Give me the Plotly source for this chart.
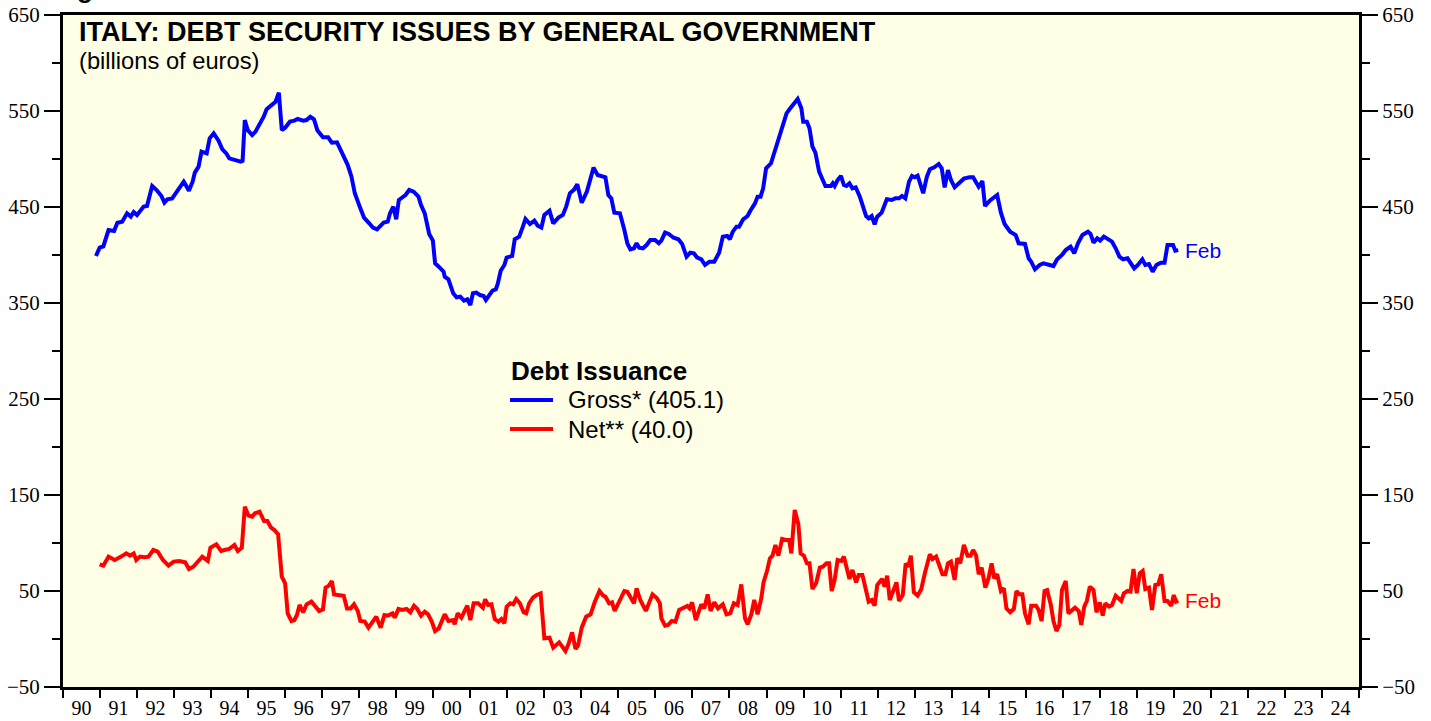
import pandas as pd
import plotly.graph_objects as go

# values; x is decimal year
gross_t = [1990.89, 1990.99, 1991.09, 1991.23, 1991.38, 1991.47, 1991.60, 1991.73, 1991.83, 1991.91,
           1992.00, 1992.18, 1992.27, 1992.41, 1992.53, 1992.66, 1992.74, 1992.82, 1992.95, 1993.06,
           1993.16, 1993.26, 1993.33, 1993.40, 1993.50, 1993.56, 1993.66, 1993.74, 1993.88, 1993.96,
           1994.07, 1994.20, 1994.30, 1994.41, 1994.49, 1994.65, 1994.80, 1994.85, 1994.91, 1994.99,
           1995.11, 1995.20, 1995.33, 1995.42, 1995.50, 1995.62, 1995.74, 1995.83, 1995.91, 1996.00,
           1996.13, 1996.25, 1996.34, 1996.49, 1996.58, 1996.68, 1996.78, 1996.87, 1997.02, 1997.16,
           1997.26, 1997.40, 1997.55, 1997.69, 1997.79, 1997.88, 1998.03, 1998.13, 1998.27, 1998.37,
           1998.48, 1998.66, 1998.77, 1998.83, 1998.92, 1999.00, 1999.07, 1999.19, 1999.25, 1999.35,
           1999.47, 1999.60, 1999.67, 1999.77, 1999.89, 1999.99, 2000.05, 2000.15, 2000.28, 2000.31,
           2000.41, 2000.54, 2000.63, 2000.73, 2000.83, 2000.92, 2001.00, 2001.07, 2001.16, 2001.26,
           2001.36, 2001.42, 2001.50, 2001.60, 2001.69, 2001.74, 2001.82, 2001.92, 2001.98, 2002.13,
           2002.20, 2002.32, 2002.42, 2002.49, 2002.61, 2002.73, 2002.82, 2002.92, 2003.00, 2003.14,
           2003.24, 2003.38, 2003.50, 2003.59, 2003.69, 2003.81, 2003.89, 2004.01, 2004.15, 2004.25,
           2004.33, 2004.44, 2004.59, 2004.65, 2004.73, 2004.81, 2004.89, 2005.04, 2005.16, 2005.24,
           2005.32, 2005.42, 2005.49, 2005.56, 2005.66, 2005.76, 2005.86, 2005.99, 2006.09, 2006.16,
           2006.26, 2006.36, 2006.49, 2006.62, 2006.72, 2006.84, 2006.94, 2007.04, 2007.12, 2007.24,
           2007.34, 2007.46, 2007.59, 2007.72, 2007.82, 2007.94, 2008.01, 2008.09, 2008.19, 2008.26,
           2008.37, 2008.49, 2008.56, 2008.69, 2008.76, 2008.84, 2008.91, 2008.99, 2009.12, 2009.24,
           2009.34, 2009.44, 2009.54, 2009.62, 2009.74, 2009.84, 2009.94, 2009.99, 2010.09, 2010.16,
           2010.24, 2010.32, 2010.42, 2010.52, 2010.59, 2010.74, 2010.79, 2010.84, 2010.92, 2011.01,
           2011.09, 2011.16, 2011.24, 2011.32, 2011.41, 2011.52, 2011.60, 2011.69, 2011.76, 2011.84,
           2011.92, 2011.99, 2012.11, 2012.25, 2012.38, 2012.48, 2012.58, 2012.66, 2012.75, 2012.85,
           2012.93, 2013.00, 2013.08, 2013.15, 2013.23, 2013.33, 2013.41, 2013.53, 2013.65, 2013.73,
           2013.81, 2013.90, 2013.98, 2014.08, 2014.21, 2014.33, 2014.48, 2014.58, 2014.65, 2014.73,
           2014.83, 2014.90, 2015.03, 2015.13, 2015.23, 2015.33, 2015.43, 2015.58, 2015.73, 2015.81,
           2015.98, 2016.08, 2016.15, 2016.25, 2016.38, 2016.48, 2016.61, 2016.75, 2016.85, 2016.98,
           2017.08, 2017.21, 2017.31, 2017.41, 2017.53, 2017.68, 2017.75, 2017.83, 2017.93, 2018.01,
           2018.11, 2018.21, 2018.33, 2018.43, 2018.53, 2018.63, 2018.75, 2018.83, 2018.93, 2019.03,
           2019.15, 2019.23, 2019.33, 2019.43, 2019.53, 2019.65, 2019.75, 2019.83, 2019.98, 2020.04,
           2020.12]
gross_v = [399, 407.6, 409, 426, 425, 433.6, 434.7, 443.4, 440, 444.8,
           441.7, 450.4, 451, 471.9, 467.7, 461.5, 454.5, 458, 459, 465.3,
           471.9, 476.4, 471.9, 467, 476.4, 485.8, 492, 507.6, 505.9, 521.5,
           526.7, 519, 510.4, 505.9, 500.7, 499, 497.2, 498, 540.6, 530,
           525, 528.5, 537.3, 544, 551.8, 555.2, 559.7, 569, 530, 532.6,
           538.9, 540, 541.7, 540, 540.6, 544, 541.3, 530, 522.6, 522.6,
           517, 517.4, 505.2, 493.7, 481.6, 464.3, 448.6, 439, 433, 428.5,
           426.7, 433.7, 434.7, 443.4, 450.4, 437.2, 457.3, 461.5, 462.5, 467.7,
           466, 460.8, 452, 443.4, 421.9, 415, 391.4, 387.8, 382.6, 377.4,
           374.7, 360.1, 356, 356.6, 352.4, 353.8, 347.9, 360.1, 360.8, 358.3,
           357.3, 353.1, 358.3, 362.8, 364.3, 369.8, 383.6, 389.6, 397.2, 399,
           416.4, 419.1, 429.5, 437.5, 432.3, 435.8, 430.5, 428.5, 441.7, 446.2,
           433, 438.9, 441.7, 450.4, 464.3, 468.4, 473.6, 454.5, 466, 481.6,
           491, 483.3, 481, 481, 462.5, 459, 444.1, 443.4, 426, 412.2,
           405.9, 407, 412.2, 407.6, 407, 410.4, 415.6, 415.6, 412.2, 415,
           423.3, 421.9, 418, 416.4, 411.5, 398.3, 402.4, 401.8, 397.6, 395.5,
           389.6, 393, 393, 402.4, 419.1, 419.8, 416.4, 424.3, 429.5, 429.5,
           437.2, 440.6, 445.8, 453.8, 460.8, 460.8, 469.5, 490.3, 495.5, 511.1,
           522.6, 533.6, 547.6, 551.8, 558.6, 562.5, 552.8, 538.9, 538.9, 532,
           512.8, 506.6, 486.8, 478.9, 471.9, 471.9, 474.7, 471.9, 478.1, 482.3,
           472.9, 471.9, 474.7, 469.5, 470.5, 460.8, 450.4, 440.6, 438.2, 440.6,
           432, 439.9, 444.1, 458, 457.3, 459, 459, 461.5, 459, 476.4,
           482.3, 481, 482.6, 474.7, 464.3, 481.6, 489.3, 491.4, 494.8, 490.3,
           470.5, 488.5, 478.1, 470.5, 474.7, 479.5, 481, 481, 476.4, 471.1,
           477.1, 451, 456.6, 459, 462.5, 444.1, 432.3, 424.3, 420.8, 412.2,
           411.5, 396.6, 393, 385.1, 389.6, 391.4, 389.6, 388.5, 395.5, 400,
           405.2, 408.7, 401.8, 412.2, 420.8, 424.3, 421.9, 412.8, 417.4, 415,
           419.1, 416.4, 413.9, 407, 398.3, 395.5, 396.6, 391.9, 386.1, 389.6,
           395.5, 389.6, 390.6, 382.6, 389.6, 391.9, 391.9, 410.4, 410.4, 404.5,
           405.1]

net_t = [1990.99, 1991.09, 1991.23, 1991.40, 1991.57, 1991.71, 1991.81, 1991.91, 1991.98, 1992.08,
         1992.20, 1992.31, 1992.44, 1992.56, 1992.70, 1992.85, 1992.99, 1993.14, 1993.30, 1993.40,
         1993.52, 1993.64, 1993.76, 1993.91, 1993.98, 1994.14, 1994.27, 1994.36, 1994.49, 1994.63,
         1994.72, 1994.83, 1994.91, 1995.01, 1995.11, 1995.18, 1995.31, 1995.43, 1995.52, 1995.62,
         1995.71, 1995.81, 1995.91, 1996.00, 1996.07, 1996.17, 1996.25, 1996.32, 1996.39, 1996.49,
         1996.58, 1996.71, 1996.82, 1996.92, 1997.02, 1997.09, 1997.18, 1997.26, 1997.32, 1997.45,
         1997.58, 1997.67, 1997.77, 1997.86, 1997.96, 1998.03, 1998.15, 1998.25, 1998.37, 1998.46,
         1998.58, 1998.68, 1998.77, 1998.90, 1998.96, 1999.06, 1999.16, 1999.28, 1999.38, 1999.48,
         1999.57, 1999.67, 1999.77, 1999.86, 1999.96, 2000.05, 2000.15, 2000.25, 2000.31, 2000.41,
         2000.54, 2000.58, 2000.66, 2000.76, 2000.85, 2000.92, 2001.00, 2001.09, 2001.21, 2001.34,
         2001.40, 2001.48, 2001.57, 2001.66, 2001.76, 2001.84, 2001.92, 2001.98, 2002.08, 2002.16,
         2002.24, 2002.34, 2002.44, 2002.51, 2002.59, 2002.69, 2002.79, 2002.90, 2003.00, 2003.14,
         2003.24, 2003.40, 2003.57, 2003.65, 2003.75, 2003.84, 2003.91, 2004.01, 2004.13, 2004.25,
         2004.36, 2004.49, 2004.59, 2004.65, 2004.75, 2004.83, 2004.90, 2005.02, 2005.16, 2005.24,
         2005.32, 2005.42, 2005.49, 2005.59, 2005.74, 2005.92, 2006.04, 2006.12, 2006.16, 2006.26,
         2006.34, 2006.44, 2006.54, 2006.64, 2006.76, 2006.86, 2006.92, 2006.99, 2007.09, 2007.24,
         2007.32, 2007.41, 2007.49, 2007.59, 2007.69, 2007.82, 2007.92, 2008.02, 2008.12, 2008.22,
         2008.32, 2008.42, 2008.49, 2008.59, 2008.67, 2008.76, 2008.86, 2008.92, 2009.02, 2009.09,
         2009.16, 2009.24, 2009.32, 2009.42, 2009.52, 2009.61, 2009.67, 2009.76, 2009.86, 2009.92,
         2010.01, 2010.09, 2010.16, 2010.24, 2010.34, 2010.44, 2010.52, 2010.62, 2010.69, 2010.76,
         2010.84, 2010.92, 2011.02, 2011.09, 2011.24, 2011.32, 2011.42, 2011.49, 2011.59, 2011.67,
         2011.76, 2011.84, 2011.92, 2011.99, 2012.12, 2012.19, 2012.26, 2012.33, 2012.43, 2012.51,
         2012.58, 2012.68, 2012.76, 2012.83, 2012.90, 2012.98, 2013.08, 2013.18, 2013.28, 2013.41,
         2013.48, 2013.58, 2013.68, 2013.75, 2013.83, 2013.90, 2013.98, 2014.08, 2014.15, 2014.23,
         2014.33, 2014.43, 2014.51, 2014.58, 2014.66, 2014.73, 2014.81, 2014.91, 2015.00, 2015.08,
         2015.15, 2015.23, 2015.33, 2015.41, 2015.48, 2015.58, 2015.68, 2015.75, 2015.83, 2015.91,
         2015.98, 2016.08, 2016.15, 2016.28, 2016.35, 2016.43, 2016.51, 2016.58, 2016.68, 2016.75,
         2016.83, 2016.91, 2016.98, 2017.08, 2017.15, 2017.23, 2017.33, 2017.43, 2017.50, 2017.58,
         2017.65, 2017.73, 2017.83, 2017.91, 2018.00, 2018.08, 2018.15, 2018.25, 2018.33, 2018.43,
         2018.58, 2018.65, 2018.75, 2018.83, 2018.91, 2019.00, 2019.08, 2019.16, 2019.23, 2019.33,
         2019.41, 2019.50, 2019.58, 2019.66, 2019.75, 2019.83, 2019.93, 2020.00, 2020.06, 2020.12]
net_v = [77.8, 76.4, 85.8, 82.3, 85.8, 89.2, 86.8, 89.2, 82.3, 85.8,
         85.1, 85.8, 92.7, 91, 82.3, 76.4, 80.6, 81.3, 79.9, 72.9,
         75.3, 80.6, 85.8, 81.3, 95.1, 98.6, 91.7, 92.7, 93.8, 97.9,
         91.7, 95.1, 137.8, 128.5, 127.4, 130.9, 132.6, 122.9, 122.9, 116,
         113.5, 109, 64.9, 58, 26.7, 18.8, 19.8, 25, 35.4, 27.8,
         36.1, 38.9, 34.4, 29.2, 30.9, 53.5, 55.6, 60.4, 46.5, 45.8,
         45.1, 31.9, 31.9, 36.1, 29.2, 18.8, 18.1, 11.8, 18.8, 23.3,
         11.8, 25, 24.3, 26.7, 22.2, 31.3, 30.2, 31.3, 27.8, 34.7,
         31.3, 24.3, 28.5, 25.7, 18.1, 8.3, 11.1, 21.5, 25.7, 18.8,
         19.8, 15.3, 26.7, 22.2, 30.2, 34.7, 19.8, 37.2, 37.2, 32.6,
         41.3, 35.4, 36.1, 20.8, 18.1, 20.8, 16.3, 33.7, 37.2, 36.1,
         41.7, 37.2, 27.8, 26.7, 37.2, 43.1, 45.8, 47.6, 0.7, 1.4,
         -9, -3.5, -12.5, -5.6, 6.9, -10.4, -6.9, 11.8, 23.3, 25.7,
         38.2, 50, 45.1, 44.1, 37.2, 38.2, 29.2, 38.2, 50, 49.3,
         44.1, 37.2, 52.8, 40.6, 29.2, 46.5, 42.4, 37.2, 21.5, 13.9,
         14.6, 18.8, 18.1, 30.2, 32.6, 34.4, 31.9, 38.2, 19.8, 36.1,
         31.9, 46.5, 29.2, 38.2, 31.9, 36.1, 25.7, 26.7, 37.2, 35.4,
         56.9, 21.5, 15.3, 25.7, 40.6, 25.7, 42.4, 59, 71.9, 84,
         86.8, 97.9, 86.8, 104.2, 103.1, 103.1, 89.2, 134.4, 119.4, 89.2,
         86.8, 78.8, 78.8, 52.1, 58, 74.3, 75.3, 78.8, 78.8, 50,
         61.5, 82.3, 81.3, 85.8, 62.5, 71.9, 59, 66.7, 66.7, 52.1,
         38.9, 40.6, 34.7, 56.3, 62.5, 54.5, 66, 40.6, 52.1, 59,
         39.6, 45.8, 78.8, 75.3, 86.8, 48.6, 45.1, 52.1, 69.4, 88.2,
         83.3, 85.8, 75.3, 67.4, 67.4, 78.8, 80.6, 61.5, 84, 78.8,
         97.9, 86.8, 86.8, 92.7, 86.8, 67.4, 74.3, 53.5, 63.9, 78.8,
         63.2, 67.4, 50, 52.8, 31.9, 27.8, 31.3, 50, 46.5, 46.5,
         26.7, 15.3, 34.7, 34.7, 30.2, 18.8, 50, 51, 35.4, 18.8,
         8.3, 14.6, 51, 60.4, 26.7, 29.2, 32.6, 29.2, 14.6, 33.7,
         39.6, 54.5, 51, 27.8, 38.2, 24.3, 37.2, 33.7, 35.4, 45.1,
         39.6, 47.6, 50, 49.3, 72.9, 47.6, 68.4, 70.8, 52.1, 53.5,
         30.2, 56.3, 56.9, 67.4, 39.6, 39.6, 34.7, 45.8, 38.9, 40.0]

series_names = ["Gross* (405.1)", "Net** (40.0)"]
series_colors = ["#0000FF", "#FF0000"]


def to_date(t):
    y = int(t)
    return pd.Timestamp(year=y, month=1, day=1) + pd.Timedelta(days=(t - y) * 365.25)


gross_x = [to_date(t) for t in gross_t]
net_x = [to_date(t) for t in net_t]

sans = "Liberation Sans, Arial, sans-serif"
serif = "Liberation Serif, Times New Roman, serif"

fig = go.Figure()
fig.add_trace(go.Scatter(x=gross_x, y=gross_v, mode="lines", name=series_names[0],
                         line=dict(color=series_colors[0], width=4)))
fig.add_trace(go.Scatter(x=net_x, y=net_v, mode="lines", name=series_names[1],
                         line=dict(color=series_colors[1], width=4)))
# invisible trace so the right axis is drawn
fig.add_trace(go.Scatter(x=[gross_x[0]], y=[gross_v[0]], yaxis="y2", mode="lines",
                         showlegend=False, hoverinfo="skip", line=dict(width=0)))

ytick = dict(tickmode="linear", tick0=-50, dtick=100, ticks="outside", ticklen=16,
             tickwidth=2, tickcolor="black", showgrid=False, zeroline=False,
             showline=True, linewidth=3, linecolor="black", range=[-50, 650],
             automargin=False, ticklabeloverflow="allow",
             tickfont=dict(family=serif, size=21, color="black"),
             minor=dict(tickmode="linear", tick0=0, dtick=50, ticks="outside", ticklen=8,
                        tickwidth=2, tickcolor="black", showgrid=False))

# hand-made legend block (title, two line swatches, labels)
leg_x0, leg_x1, leg_tx = 0.3449, 0.3781, 0.3880
leg_rows = [0.4271, 0.3839]
shapes = [dict(type="line", xref="paper", yref="paper", x0=leg_x0, x1=leg_x1, y0=yy, y1=yy,
               line=dict(color=c, width=4)) for yy, c in zip(leg_rows, series_colors)]
legend_ann = [dict(text="<b>Debt Issuance</b>", xref="paper", yref="paper", x=0.3441, y=0.4702,
                   xanchor="left", yanchor="middle", showarrow=False,
                   font=dict(family=sans, size=26, color="black"))]
legend_ann += [dict(text=n, xref="paper", yref="paper", x=leg_tx, y=yy, xanchor="left",
                    yanchor="middle", showarrow=False, font=dict(family=sans, size=24, color="black"))
               for n, yy in zip(series_names, leg_rows)]

fig.update_layout(
    width=1431, height=721,
    margin=dict(l=63, r=72, t=15, b=34),
    paper_bgcolor="white",
    plot_bgcolor="#FFFFE6",
    showlegend=False,
    xaxis=dict(type="date", range=["1990-01-01", "2025-01-01"], tick0="1990-01-01",
               dtick="M12", tickformat="%y", ticklabelmode="period",
               ticks="outside", ticklen=8, tickwidth=2, tickcolor="black",
               showgrid=False, zeroline=False, showline=True, linewidth=3,
               linecolor="black", mirror=True, automargin=False, ticklabeloverflow="allow",
               ticklabelstandoff=-7,
               tickfont=dict(family=serif, size=20, color="black")),
    yaxis=dict(side="left", **ytick),
    yaxis2=dict(side="right", overlaying="y", **ytick),
    shapes=shapes,
    annotations=[
        dict(text="<b>ITALY: DEBT SECURITY ISSUES BY GENERAL GOVERNMENT</b>", xref="paper",
             yref="paper", x=0.0105, y=0.9747, xanchor="left", yanchor="middle", showarrow=False,
             font=dict(family=sans, size=27, color="black")),
        dict(text="(billions of euros)", xref="paper", yref="paper", x=0.0105, y=0.9315,
             xanchor="left", yanchor="middle", showarrow=False,
             font=dict(family=sans, size=23.7, color="black")),
        dict(text="Feb", x=gross_x[-1], y=gross_v[-1], xanchor="left", yanchor="middle",
             xshift=5, showarrow=False, font=dict(family=sans, size=21, color=series_colors[0])),
        dict(text="Feb", x=net_x[-1], y=net_v[-1], xanchor="left", yanchor="middle",
             xshift=5, showarrow=False, font=dict(family=sans, size=21, color=series_colors[1])),
        dict(text="<b>Figure</b>", xref="paper", yref="paper", x=-0.0085, y=1.0134,
             xanchor="left", yanchor="bottom", showarrow=False,
             font=dict(family=sans, size=26, color="black")),
    ] + legend_ann,
)

# drop the default 8px page margin so the figure fills the window exactly
fig.write_html("out.html", config={"displayModeBar": False},
               post_script="document.body.style.margin='0';")
